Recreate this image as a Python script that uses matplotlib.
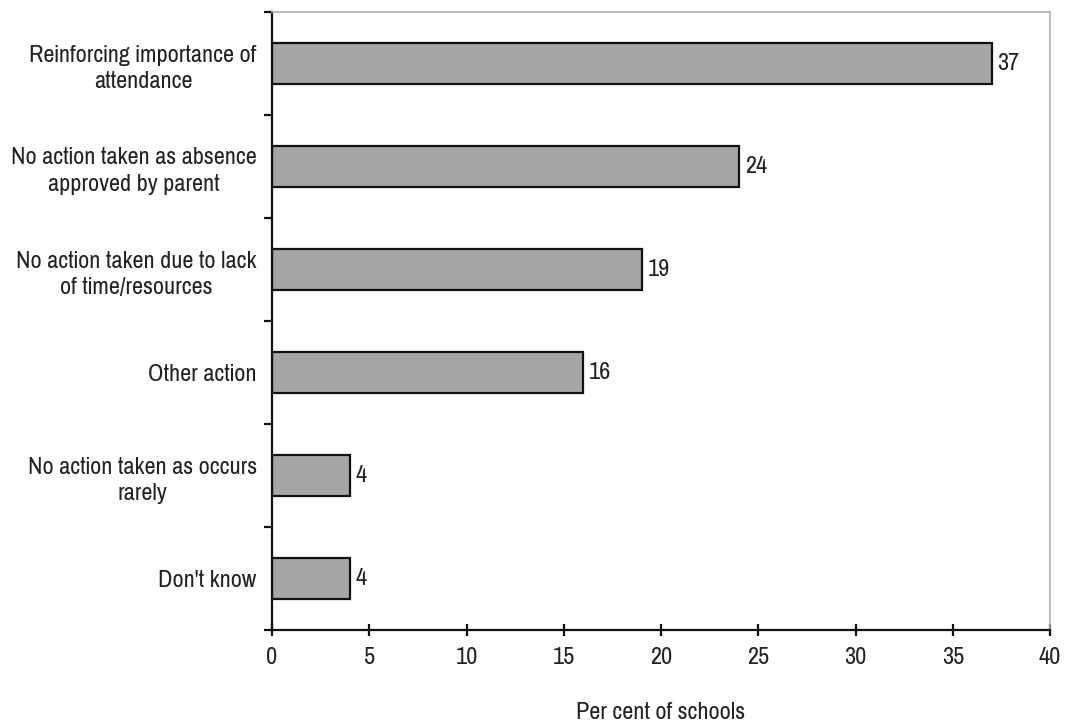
import matplotlib
matplotlib.use("Agg")
import matplotlib.pyplot as plt

categories = [
    "Reinforcing importance of\nattendance",
    "No action taken as absence\napproved by parent",
    "No action taken due to lack\nof time/resources",
    "Other action",
    "No action taken as occurs\nrarely",
    "Don't know",
]
values = [37, 24, 19, 16, 4, 4]
xticks = [0, 5, 10, 15, 20, 25, 30, 35, 40]

plt.rcParams["font.family"] = ["Pragati Narrow", "DejaVu Sans"]
FS = 19
TXT = "#222222"

fig = plt.figure(figsize=(10.71, 7.22), dpi=100)
ax = fig.add_axes([272 / 1071, 1 - 630 / 722, (1050 - 272) / 1071, (630 - 12) / 722])

n = len(categories)
pos = list(range(n))
ax.barh(pos, values, height=0.4, color="#a6a6a8", edgecolor="#111111", linewidth=1.6)
ax.set_ylim(n - 0.5, -0.5)
ax.set_xlim(0, 40)

for p, v in zip(pos, values):
    ax.text(v + 0.3, p, str(v), va="center", ha="left", fontsize=FS, color=TXT)

ax.set_yticks(pos)
ax.set_yticklabels(categories, fontsize=FS, color=TXT, linespacing=1.35,
                   multialignment="center")
ax.set_yticks([p - 0.5 for p in range(n + 1)], minor=True)
ax.tick_params(axis="y", which="major", length=0, pad=11)
ax.tick_params(axis="y", which="minor", length=6, width=1.6, direction="out", color="#111111")

ax.set_xticks(xticks)
ax.set_xticklabels([str(t) for t in xticks], fontsize=FS, color=TXT)
ax.tick_params(axis="x", length=9, width=1.6, direction="inout", color="#111111", pad=8)
ax.set_xlabel("Per cent of schools", fontsize=FS, color=TXT, labelpad=24)

for s in ["left", "bottom"]:
    ax.spines[s].set_linewidth(1.6)
    ax.spines[s].set_color("#111111")
for s in ["top", "right"]:
    ax.spines[s].set_linewidth(1.2)
    ax.spines[s].set_color("#b0b0b0")

fig.savefig("out.png", dpi=100)
